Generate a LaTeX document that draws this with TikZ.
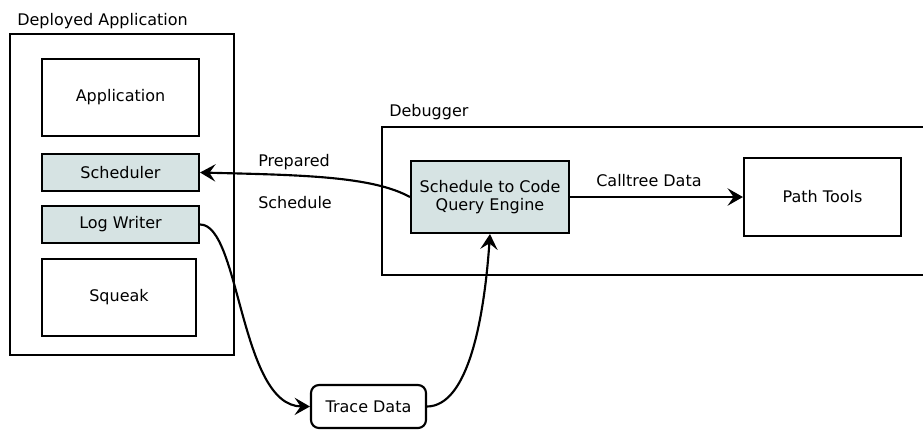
\documentclass[tikz,border=0pt]{standalone}
\usepackage{fontspec}
\setmainfont{DejaVu Sans}
\usepackage{xcolor}
\usepackage{tikz}
\usetikzlibrary{arrows.meta}
\definecolor{paleblue}{RGB}{214,227,227}

\begin{document}
\begin{tikzpicture}[
  x=0.75pt,y=-0.75pt,
  font=\fontsize{12}{14}\selectfont,
  frame/.style={rectangle,draw,line width=1.6pt,inner sep=0pt},
  comp/.style={rectangle,draw,line width=1.6pt,fill=white,align=center,inner sep=0pt,minimum width=117.75pt},
  active/.style={comp,fill=paleblue},
  store/.style={rectangle,rounded corners=6pt,draw,line width=1.6pt,inner sep=0pt,minimum width=86.25pt,minimum height=32.25pt},
  lbl/.style={anchor=base west,inner sep=0pt},
  arr/.style={-{Stealth[length=11.5pt,width=13pt,inset=4.5pt]},line width=1.6pt}
]
\clip (0,0) rectangle (923,430);

% deployed side
\node[frame,minimum width=168pt,minimum height=240.75pt] (deployed) at (122,194.5) {};
\node[lbl] (deployedlbl) at (17,25) {Deployed Application};
\node[comp,minimum height=57.75pt] (app) at (120.5,97.5) {Application};
\node[active,minimum height=27.75pt] (sched) at (120.5,172.5) {Scheduler};
\node[active,minimum height=27.75pt] (logw) at (120.5,224.5) {Log Writer};
\node[comp,minimum width=115.5pt,minimum height=57.75pt] (squeak) at (119,297.5) {Squeak};

% debugger side
\node[frame,minimum width=426pt,minimum height=111pt] (debugger) at (666,201) {};
\node[lbl] (debuggerlbl) at (389,116) {Debugger};
\node[active,minimum width=118.5pt,minimum height=54pt] (engine) at (490,197) {Schedule to Code\\Query Engine};
\node[comp,minimum height=58.5pt] (path) at (822.5,197) {Path Tools};

\node[store] (trace) at (368.5,406.5) {Trace Data};

\node[lbl] (prep) at (258,166) {Prepared};
\node[lbl] (schedlbl) at (258,208) {Schedule};
\node[lbl] (calltree) at (596,186) {Calltree Data};

\draw[arr] (engine.east) -- (path.west);
\draw[arr] (engine.west) .. controls (372,176) and (300,175) .. (sched.east);
\draw[arr] (logw.east) .. controls (240,224) and (240,406) .. (trace.west);
\draw[arr] (trace.east) .. controls (468,406) and (484,320) .. (engine.south);
\end{tikzpicture}
\end{document}
